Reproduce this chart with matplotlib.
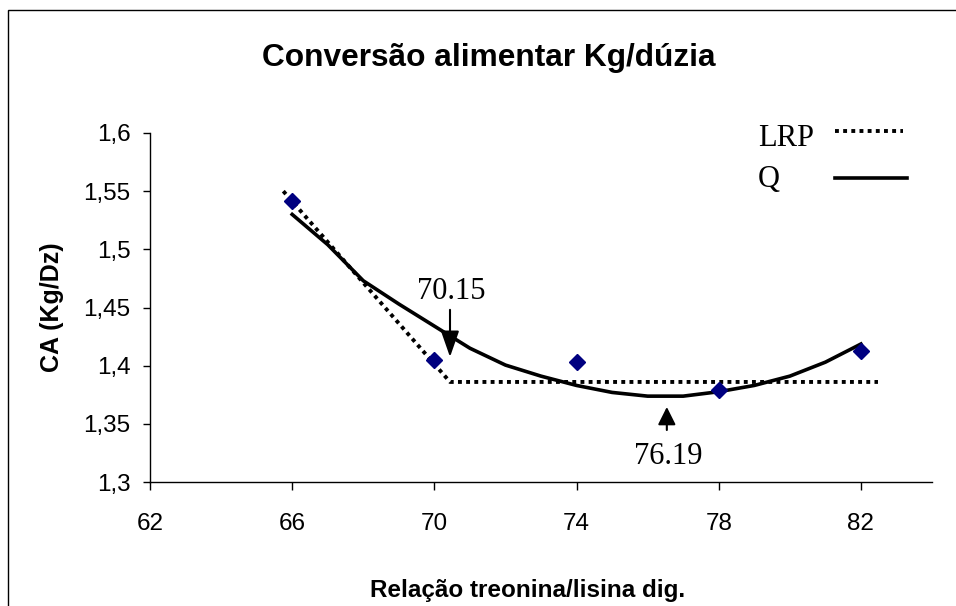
import numpy as np
import matplotlib
matplotlib.use("Agg")
import matplotlib.pyplot as plt
from matplotlib.patches import Rectangle
from matplotlib.lines import Line2D

# observed data (blue diamonds)
obs_x = [66, 70, 74, 78, 82]
obs_y = [1.5415, 1.405, 1.403, 1.379, 1.4125]

# LRP (linear response plateau)
lrp_x = [65.75, 70.44, 82.48]
lrp_y = [1.550, 1.386, 1.386]

# Q (quadratic fit)
q_x = [66, 67, 68, 69, 70, 71, 72, 73, 74, 75, 76, 77, 78, 79, 80, 81, 82]
q_y = [1.530, 1.504, 1.473, 1.453, 1.434, 1.415, 1.4005, 1.391, 1.383,
       1.377, 1.3738, 1.3738, 1.3776, 1.383, 1.391, 1.403, 1.4186]

xticks = [62, 66, 70, 74, 78, 82]
yticks = [1.3, 1.35, 1.4, 1.45, 1.5, 1.55, 1.6]
ytick_labels = ["1,3", "1,35", "1,4", "1,45", "1,5", "1,55", "1,6"]

sans = "Liberation Sans"
serif = "Liberation Serif"
W, H = 956, 606

fig = plt.figure(figsize=(9.56, 6.06), dpi=100)
ax = fig.add_axes([150 / W, 1 - 482 / H, (932 - 150) / W, (482 - 133) / H])

lrp_style = dict(color="black", lw=2.8, linestyle=(0, (1, 1.1)),
                 dash_capstyle="butt")
q_style = dict(color="black", lw=2.6)

ax.plot(lrp_x, lrp_y, **lrp_style)
ax.plot(q_x, q_y, **q_style)
ax.plot(obs_x, obs_y, linestyle="none", marker="D", markersize=8,
        color="#000080", zorder=3)

ax.set_xlim(62, 84)
ax.set_ylim(1.3, 1.6)
ax.set_xticks(xticks)
ax.set_yticks(yticks)
ax.set_yticklabels(ytick_labels)
for s in ["top", "right"]:
    ax.spines[s].set_visible(False)
for s in ["left", "bottom"]:
    ax.spines[s].set_linewidth(1.0)
ax.tick_params(axis="x", direction="out", length=6, width=1, pad=16,
               labelsize=17.5)
ax.tick_params(axis="y", direction="out", length=5, width=1, pad=9,
               labelsize=17.5)
for lab in ax.get_xticklabels() + ax.get_yticklabels():
    lab.set_fontfamily(sans)

# annotations
ax.annotate("", xy=(70.44, 1.4075), xytext=(70.44, 1.448),
            arrowprops=dict(arrowstyle="-|>,head_length=0.4,head_width=0.14",
                            mutation_scale=40, color="black", lw=1.5,
                            shrinkA=0, shrinkB=0))
ax.text(70.47, 1.464, "70.15", fontsize=22, family=serif,
        ha="center", va="center")
ax.annotate("", xy=(76.54, 1.3645), xytext=(76.54, 1.3447),
            arrowprops=dict(arrowstyle="-|>,head_length=0.4,head_width=0.2",
                            mutation_scale=27, color="black", lw=1.5,
                            shrinkA=0, shrinkB=0))
ax.text(76.57, 1.3215, "76.19", fontsize=22, family=serif,
        ha="center", va="center")

# legend (text left aligned, keys on the right, like the original)
fig.text(758 / W, 1 - 138 / H, "LRP", fontsize=22, family=serif,
         ha="left", va="center")
fig.text(758 / W, 1 - 179 / H, "Q", fontsize=22, family=serif,
         ha="left", va="center")
fig.add_artist(Line2D([835 / W, 903 / W], [1 - 131 / H, 1 - 131 / H],
                      transform=fig.transFigure, **lrp_style))
fig.add_artist(Line2D([835 / W, 907 / W], [1 - 178 / H, 1 - 178 / H],
                      transform=fig.transFigure, **q_style))

fig.text(489 / W, 1 - 58 / H, "Conversão alimentar Kg/dúzia",
         fontsize=22.8, fontweight="bold", family=sans, ha="center", va="center")
fig.text(528 / W, 1 - 591 / H, "Relação treonina/lisina dig.",
         fontsize=17.5, fontweight="bold", family=sans, ha="center", va="center")
fig.text(52 / W, 1 - 307 / H, "CA (Kg/Dz)", rotation=90,
         fontsize=18, fontweight="bold", family=sans, ha="center", va="center")

# outer chart border
fig.add_artist(Rectangle((8 / W, -0.1), 1.2, 1.1 - 10 / H, fill=False,
                         edgecolor="black", lw=1.0, transform=fig.transFigure))

fig.savefig("out.png", dpi=100)
